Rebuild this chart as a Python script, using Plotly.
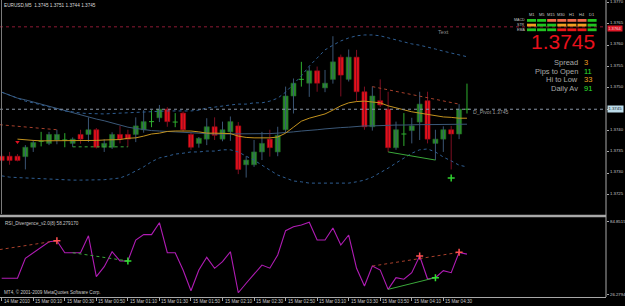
import plotly.graph_objects as go

W, H = 625, 306

# ---------------- data ----------------
bars = list(range(60))  # M5 bars from 14 Mar 23:50 to 15 Mar 04:45
opens = [1.37340,1.37340,1.37340,1.37339,1.37361,1.37375,1.37370,1.37378,1.37378,1.37370,
         1.37391,1.37391,1.37402,1.37361,1.37361,1.37391,1.37391,1.37391,1.37402,1.37421,
         1.37430,1.37450,1.37420,1.37441,1.37391,1.37370,1.37380,1.37409,1.37380,1.37397,
         1.37411,1.37320,1.37320,1.37350,1.37380,1.37350,1.37402,1.37481,1.37520,1.37511,
         1.37540,1.37500,1.37520,1.37572,1.37520,1.37572,1.37491,1.37409,1.37470,1.37450,
         1.37360,1.37392,1.37400,1.37420,1.37470,1.37370,1.37380,1.37402,1.37392,1.37450]
highs = [1.37345,1.37350,1.37345,1.37366,1.37378,1.37397,1.37397,1.37402,1.37394,1.37384,
         1.37402,1.37431,1.37406,1.37380,1.37396,1.37411,1.37402,1.37431,1.37448,1.37448,
         1.37460,1.37455,1.37441,1.37445,1.37395,1.37385,1.37429,1.37431,1.37421,1.37433,
         1.37420,1.37340,1.37378,1.37397,1.37402,1.37409,1.37503,1.37522,1.37561,1.37550,
         1.37550,1.37542,1.37621,1.37578,1.37590,1.37589,1.37503,1.37503,1.37520,1.37491,
         1.37421,1.37441,1.37430,1.37491,1.37491,1.37402,1.37410,1.37411,1.37462,1.37510]
lows = [1.37325,1.37320,1.37328,1.37309,1.37350,1.37363,1.37366,1.37368,1.37361,1.37362,
        1.37369,1.37373,1.37358,1.37350,1.37357,1.37370,1.37362,1.37373,1.37395,1.37408,
        1.37420,1.37409,1.37408,1.37398,1.37355,1.37360,1.37366,1.37378,1.37375,1.37376,
        1.37298,1.37290,1.37315,1.37331,1.37339,1.37340,1.37395,1.37440,1.37503,1.37479,
        1.37491,1.37490,1.37510,1.37480,1.37515,1.37468,1.37402,1.37400,1.37455,1.37350,
        1.37355,1.37364,1.37370,1.37378,1.37370,1.37331,1.37350,1.37309,1.37380,1.37440]
closes = [1.37330,1.37330,1.37330,1.37361,1.37372,1.37375,1.37391,1.37391,1.37378,1.37380,
          1.37380,1.37402,1.37361,1.37370,1.37391,1.37380,1.37380,1.37411,1.37421,1.37421,
          1.37450,1.37421,1.37420,1.37402,1.37361,1.37382,1.37409,1.37389,1.37402,1.37421,
          1.37309,1.37331,1.37350,1.37370,1.37360,1.37389,1.37481,1.37511,1.37520,1.37540,
          1.37511,1.37511,1.37561,1.37530,1.37572,1.37491,1.37409,1.37481,1.37460,1.37360,
          1.37402,1.37392,1.37411,1.37462,1.37380,1.37380,1.37402,1.37392,1.37450,1.37450]

upper_bb = [1.37490,1.37483,1.37476,1.37469,1.37465,1.37460,1.37455,1.37450,1.37446,1.37444,
            1.37441,1.37440,1.37439,1.37439,1.37440,1.37441,1.37441,1.37442,1.37444,1.37444,
            1.37445,1.37446,1.37446,1.37446,1.37446,1.37448,1.37453,1.37455,1.37458,1.37460,
            1.37462,1.37462,1.37465,1.37465,1.37469,1.37476,1.37490,1.37509,1.37528,1.37551,
            1.37570,1.37589,1.37600,1.37610,1.37617,1.37622,1.37624,1.37624,1.37622,1.37617,
            1.37612,1.37607,1.37603,1.37600,1.37596,1.37591,1.37586,1.37582,1.37577,1.37573]
lower_bb = [1.37294,1.37291,1.37290,1.37289,1.37288,1.37287,1.37287,1.37285,1.37284,1.37284,
            1.37284,1.37284,1.37284,1.37285,1.37287,1.37289,1.37296,1.37305,1.37315,1.37327,
            1.37336,1.37340,1.37345,1.37347,1.37350,1.37350,1.37352,1.37352,1.37355,1.37355,
            1.37350,1.37340,1.37331,1.37319,1.37308,1.37296,1.37289,1.37282,1.37280,1.37277,
            1.37277,1.37277,1.37277,1.37277,1.37277,1.37280,1.37284,1.37291,1.37301,1.37312,
            1.37324,1.37336,1.37347,1.37355,1.37357,1.37350,1.37338,1.37329,1.37319,1.37315]
ma_slow = [1.37490,1.37483,1.37476,1.37472,1.37467,1.37462,1.37456,1.37451,1.37446,1.37441,
           1.37437,1.37432,1.37427,1.37423,1.37418,1.37413,1.37408,1.37405,1.37402,1.37400,
           1.37399,1.37398,1.37397,1.37395,1.37394,1.37393,1.37392,1.37392,1.37392,1.37392,
           1.37392,1.37392,1.37392,1.37393,1.37393,1.37394,1.37395,1.37397,1.37399,1.37400,
           1.37402,1.37404,1.37406,1.37407,1.37408,1.37410,1.37411,1.37411,1.37412,1.37413,
           1.37413,1.37413,1.37414,1.37414,1.37414,1.37414,1.37415,1.37415,1.37415,1.37415]
ma_fast = [None,None,1.37380,1.37378,1.37377,1.37376,1.37376,1.37376,1.37376,1.37376,
           1.37376,1.37377,1.37377,1.37378,1.37378,1.37379,1.37382,1.37383,1.37387,1.37392,
           1.37394,1.37398,1.37399,1.37399,1.37399,1.37397,1.37394,1.37394,1.37394,1.37393,
           1.37387,1.37384,1.37383,1.37383,1.37383,1.37385,1.37394,1.37408,1.37422,1.37429,
           1.37434,1.37439,1.37448,1.37458,1.37465,1.37468,1.37469,1.37467,1.37465,1.37458,
           1.37453,1.37448,1.37444,1.37441,1.37438,1.37434,1.37432,1.37431,1.37429,1.37429]

rsi = [38.9,38.9,38.9,54.9,59.4,64.2,68.2,69.0,59.4,59.4,
       59.4,73.0,40.2,48.2,60.2,52.8,52.8,69.6,73.9,73.9,
       83.5,59.4,59.4,45.5,28.9,45.5,55.7,46.9,52.2,60.2,
       27.3,34.9,42.3,49.5,47.0,57.6,77.1,80.3,81.6,83.8,
       69.6,69.6,79.2,65.6,73.6,46.9,32.7,48.7,45.5,30.0,
       39.4,38.1,43.4,56.8,38.3,39.4,45.0,43.4,59.7,58.28]

pivot_level = 1.3745
red_level = 1.37643
bid_price = 1.3745

price_ticks = [1.3725,1.3730,1.3735,1.3740,1.3745,1.3750,1.3755,1.3760,1.3765,1.3770]
rsi_ticks = [26.2794, 84.8515]
time_label_bars = [0,4,8,12,16,20,24,28,32,36,40,44,48,52,56]
time_labels = ["14 Mar 2010","15 Mar 00:10","15 Mar 00:30","15 Mar 00:50","15 Mar 01:10",
               "15 Mar 01:30","15 Mar 01:50","15 Mar 02:10","15 Mar 02:30","15 Mar 02:50",
               "15 Mar 03:10","15 Mar 03:30","15 Mar 03:50","15 Mar 04:10","15 Mar 04:30"]

# divergence: (start bar, end bar)
div_bear = [(-1, 7), (47, 58)]
div_bull = [(9, 16), (49, 55)]
div_bear_offchart_price = 1.37415
div_bear_offchart_rsi = 61.2
rsi_extra_bear_marks = [53]
buy_arrow_bars = [57]
buy_arrow_price = [1.37289]
sell_arrow_bars = [2]
sell_arrow_price = [1.37373]

timeframes = ["M1","M5","M15","M30","H1","H4","D1"]
signal_rows = ["MACD","STR","EMA"]
signal_states = [["up","up","dn","dn","dn","dn","up"],
                 ["mid","up","up","mid","mid","mid","up"],
                 ["up","up","up","strong_dn","strong_dn","strong_dn","up"]]
info_labels = ["Spread","Pips to Open","Hi to Low","Daily Av"]
info_values = ["3","11","33","91"]
info_colors = ["#f0a020","#30e030","#f0a020","#30e030"]

# ---------------- layout constants ----------------
PLOT_R = 606          # right edge of plot area (px)
MAIN_TOP, MAIN_BOT = 0, 214
RSI_TOP, RSI_BOT = 218, 297
BAR_PX = 7.886
X0_PX = 1.7
x_range = [-X0_PX / BAR_PX, (PLOT_R - X0_PX) / BAR_PX]
main_range = [1.3720466, 1.3770585]
rsi_range = [23.87, 87.26]

def px(x):
    return x / W

def py(y):
    return 1 - y / H

FONT = "Liberation Sans"
GREEN_BODY = "#2a8a2a"
RED_BODY = "#e8101c"
BULL_WICK = "#3a5574"
BEAR_WICK = "#7d0f22"
DOJI = "#2fae2f"
AXIS_TXT = "#c8c8c8"

fig = go.Figure()

# ---------------- candles ----------------
bull = [i for i in bars if closes[i] > opens[i]]
bear = [i for i in bars if closes[i] < opens[i]]
doji = [i for i in bars if closes[i] == opens[i]]

def wick_xy(idx):
    xs, ys = [], []
    for i in idx:
        xs += [i, i, None]
        ys += [lows[i], highs[i], None]
    return xs, ys

for idx, col in [(bull, BULL_WICK), (bear, BEAR_WICK), (doji, DOJI)]:
    xs, ys = wick_xy(idx)
    fig.add_trace(go.Scatter(x=xs, y=ys, mode="lines", line=dict(color=col, width=1),
                             hoverinfo="skip", showlegend=False))

fig.add_trace(go.Bar(x=bull, base=[opens[i] for i in bull],
                     y=[closes[i] - opens[i] for i in bull], width=0.64,
                     marker=dict(color=GREEN_BODY, line=dict(color="#1d6a1d", width=0.6)),
                     showlegend=False, hoverinfo="skip"))
fig.add_trace(go.Bar(x=bear, base=[closes[i] for i in bear],
                     y=[opens[i] - closes[i] for i in bear], width=0.64,
                     marker=dict(color=RED_BODY, line=dict(color="#9a0a14", width=0.6)),
                     showlegend=False, hoverinfo="skip"))
dx, dy = [], []
for i in doji:
    dx += [i - 0.32, i + 0.32, None]
    dy += [opens[i], opens[i], None]
fig.add_trace(go.Scatter(x=dx, y=dy, mode="lines", line=dict(color=DOJI, width=1),
                         hoverinfo="skip", showlegend=False))

# ---------------- indicators (main) ----------------
fig.add_trace(go.Scatter(x=bars, y=ma_slow, mode="lines", line=dict(color="#3b5878", width=1),
                         hoverinfo="skip", showlegend=False))
fig.add_trace(go.Scatter(x=bars, y=upper_bb, mode="lines",
                         line=dict(color="#2f5e92", width=1, dash="dot"), hoverinfo="skip", showlegend=False))
fig.add_trace(go.Scatter(x=bars, y=lower_bb, mode="lines",
                         line=dict(color="#2f5e92", width=1, dash="dot"), hoverinfo="skip", showlegend=False))
fig.add_trace(go.Scatter(x=bars, y=ma_fast, mode="lines", line=dict(color="#c4931e", width=1),
                         hoverinfo="skip", showlegend=False))

for a, b in div_bear:
    ya = highs[a] if a >= 0 else div_bear_offchart_price
    fig.add_trace(go.Scatter(x=[a, b], y=[ya, highs[b]], mode="lines",
                             line=dict(color="#a8402c", width=1, dash="dot"),
                             hoverinfo="skip", showlegend=False))
for k, (a, b) in enumerate(div_bull):
    fig.add_trace(go.Scatter(x=[a, b], y=[lows[a], lows[b]], mode="lines",
                             line=dict(color="#3aa83a", width=1, dash="dot" if k == 0 else "solid"),
                             hoverinfo="skip", showlegend=False))

fig.add_trace(go.Scatter(x=buy_arrow_bars, y=buy_arrow_price, mode="markers",
                         marker=dict(symbol="cross-thin", size=5, line=dict(color="#30d030", width=1.5)),
                         hoverinfo="skip", showlegend=False))
fig.add_trace(go.Scatter(x=sell_arrow_bars, y=sell_arrow_price, mode="markers",
                         marker=dict(symbol="triangle-down", size=4, color="#e01020"),
                         hoverinfo="skip", showlegend=False))

# ---------------- RSI ----------------
fig.add_trace(go.Scatter(x=bars, y=rsi, mode="lines", line=dict(color="#b01cb4", width=1.1),
                         xaxis="x2", yaxis="y2", hoverinfo="skip", showlegend=False))
for a, b in div_bear:
    ya = rsi[a] if a >= 0 else div_bear_offchart_rsi
    fig.add_trace(go.Scatter(x=[a, b], y=[ya, rsi[b]], mode="lines",
                             line=dict(color="#a8402c", width=1, dash="dot"),
                             xaxis="x2", yaxis="y2", hoverinfo="skip", showlegend=False))
for k, (a, b) in enumerate(div_bull):
    fig.add_trace(go.Scatter(x=[a, b], y=[rsi[a], rsi[b]], mode="lines",
                             line=dict(color="#3aa83a", width=1, dash="dot" if k == 0 else "solid"),
                             xaxis="x2", yaxis="y2", hoverinfo="skip", showlegend=False))
bear_pts = [b for a, b in div_bear] + rsi_extra_bear_marks
bull_pts = [b for a, b in div_bull]
fig.add_trace(go.Scatter(x=bear_pts, y=[rsi[i] for i in bear_pts], mode="markers",
                         marker=dict(symbol="cross-thin", size=5, line=dict(color="#ff5050", width=1.5)),
                         xaxis="x2", yaxis="y2", hoverinfo="skip", showlegend=False))
fig.add_trace(go.Scatter(x=bull_pts, y=[rsi[i] for i in bull_pts], mode="markers",
                         marker=dict(symbol="cross-thin", size=5, line=dict(color="#30e030", width=1.5)),
                         xaxis="x2", yaxis="y2", hoverinfo="skip", showlegend=False))

# ---------------- shapes ----------------
shapes = [
    dict(type="line", xref="paper", yref="y", x0=0, x1=px(PLOT_R), y0=pivot_level, y1=pivot_level,
         line=dict(color="#8a96a6", width=1, dash="dot"), layer="above"),
    dict(type="line", xref="paper", yref="y", x0=0, x1=px(PLOT_R), y0=red_level, y1=red_level,
         line=dict(color="#8c1a34", width=1, dash="dot"), layer="below"),
    dict(type="line", xref="paper", yref="paper", x0=0, x1=px(PLOT_R), y0=py(216), y1=py(216),
         line=dict(color="#a8a8a8", width=2.5)),
    dict(type="line", xref="paper", yref="paper", x0=px(PLOT_R), x1=px(PLOT_R), y0=py(0), y1=py(RSI_BOT),
         line=dict(color="#a8a8a8", width=1)),
    dict(type="line", xref="paper", yref="paper", x0=px(1.5), x1=px(1.5), y0=py(0), y1=py(MAIN_BOT),
         line=dict(color="#7a7a7a", width=1)),
]

# signal table
state_col = {"up": "#20c420", "dn": "#f06a48", "mid": "#f0a020", "strong_dn": "#e81818"}
cell_x0, cell_step, cell_w = 527.0, 10.1, 9.0
row_y0, row_step, row_h = 19.0, 4.7, 2.8
for r, row in enumerate(signal_states):
    for c, st in enumerate(row):
        x0 = cell_x0 + c * cell_step
        y0 = row_y0 + r * row_step
        shapes.append(dict(type="rect", xref="paper", yref="paper",
                           x0=px(x0), x1=px(x0 + cell_w), y0=py(y0), y1=py(y0 + row_h),
                           fillcolor=state_col[st], line=dict(width=0)))

# ---------------- annotations ----------------
ann = []

def text(x, y, s, size, color, xanchor="left", yanchor="middle", **kw):
    ann.append(dict(x=px(x), y=py(y), xref="paper", yref="paper", text=s, showarrow=False,
                    xanchor=xanchor, yanchor=yanchor, borderpad=0,
                    font=dict(family=FONT, size=size, color=color), **kw))

text(3, 5, "EURUSD,M5  1.3745 1.3751 1.3744 1.3745", 4.7, "#d8d8d8")
text(3.5, 223.5, "RSI_Divergence_v2.0(8) 58.279170", 4.6, AXIS_TXT)
text(2.5, 292, "MT4, © 2001-2009 MetaQuotes Software Corp.", 4.6, AXIS_TXT)
text(437, 32, "Text", 5.6, "#8c8c8c")
text(472, 111.5, "D_Pivot 1.3745", 5.2, "#9a9a9a")

for c, tf in enumerate(timeframes):
    text(cell_x0 + c * cell_step + cell_w / 2, 14.5, tf, 4.0, AXIS_TXT, xanchor="center")
for r, name in enumerate(signal_rows):
    text(526, row_y0 + r * row_step + row_h / 2, name, 3.6, AXIS_TXT, xanchor="right")

text(596, 41.5, "1.3745", 21, "#e8101c", xanchor="right")
for k, (lab, val) in enumerate(zip(info_labels, info_values)):
    yy = 63.0 + k * 8.4
    text(579, yy, lab, 7.5, "#a8a8a8", xanchor="right")
    text(582.5, yy, val, 7.5, info_colors[k])

for b, lab in zip(time_label_bars, time_labels):
    ann.append(dict(x=b, y=py(301.3), xref="x2", yref="paper", text=lab, showarrow=False,
                    xanchor="left", yanchor="middle", xshift=1, borderpad=0,
                    font=dict(family=FONT, size=4.6, color=AXIS_TXT)))

# price-axis labels (drawn slightly above their ticks, like the terminal); bid label replaces its tick text
for v in price_ticks:
    if abs(v - bid_price) < 1e-9:
        continue
    ann.append(dict(x=px(PLOT_R + 3), y=v, xref="paper", yref="y", text=f"{v:.4f}", showarrow=False,
                    xanchor="left", yanchor="middle", yshift=1.3, borderpad=0,
                    font=dict(family=FONT, size=4.3, color=AXIS_TXT)))
for v in rsi_ticks:
    ann.append(dict(x=px(PLOT_R + 3), y=v, xref="paper", yref="y2", text=f"{v:.4f}", showarrow=False,
                    xanchor="left", yanchor="middle", borderpad=0,
                    font=dict(family=FONT, size=4.3, color=AXIS_TXT)))

ann.append(dict(x=px(PLOT_R + 0.5), y=bid_price, xref="paper", yref="y", text="1.3745", showarrow=False,
                xanchor="left", yanchor="middle", bgcolor="#bcdcea", borderpad=0.4,
                font=dict(family=FONT, size=4.3, color="#202020")))
ann.append(dict(x=px(PLOT_R + 0.5), y=red_level, xref="paper", yref="y", text="1.3764", showarrow=False,
                xanchor="left", yanchor="middle", yshift=-1.2, bgcolor="#e01828", borderpad=0.2,
                font=dict(family=FONT, size=4.1, color="#f0d0d0")))

fig.update_layout(
    width=W, height=H, margin=dict(l=0, r=0, t=0, b=0),
    paper_bgcolor="#000000", plot_bgcolor="#000000",
    barmode="overlay", showlegend=False,
    shapes=shapes, annotations=ann,
    xaxis=dict(domain=[0, px(PLOT_R)], range=x_range, anchor="y", showgrid=False, zeroline=False,
               showticklabels=False, ticks=""),
    xaxis2=dict(domain=[0, px(PLOT_R)], range=x_range, anchor="y2", matches="x", showgrid=False,
                zeroline=False, showticklabels=False, showline=True, linecolor="#a8a8a8", linewidth=1,
                ticks="outside", ticklen=3, tickcolor="#a8a8a8", tickvals=time_label_bars),
    yaxis=dict(domain=[py(MAIN_BOT), py(MAIN_TOP)], range=main_range, side="right", anchor="x",
               showgrid=False, zeroline=False, tickvals=price_ticks, showticklabels=False,
               ticks="outside", ticklen=2, tickcolor="#a8a8a8"),
    yaxis2=dict(domain=[py(RSI_BOT), py(RSI_TOP)], range=rsi_range, side="right", anchor="x2",
                showgrid=False, zeroline=False, tickvals=rsi_ticks, showticklabels=False,
                ticks="outside", ticklen=2, tickcolor="#a8a8a8"),
)

fig.write_html("out.html")
